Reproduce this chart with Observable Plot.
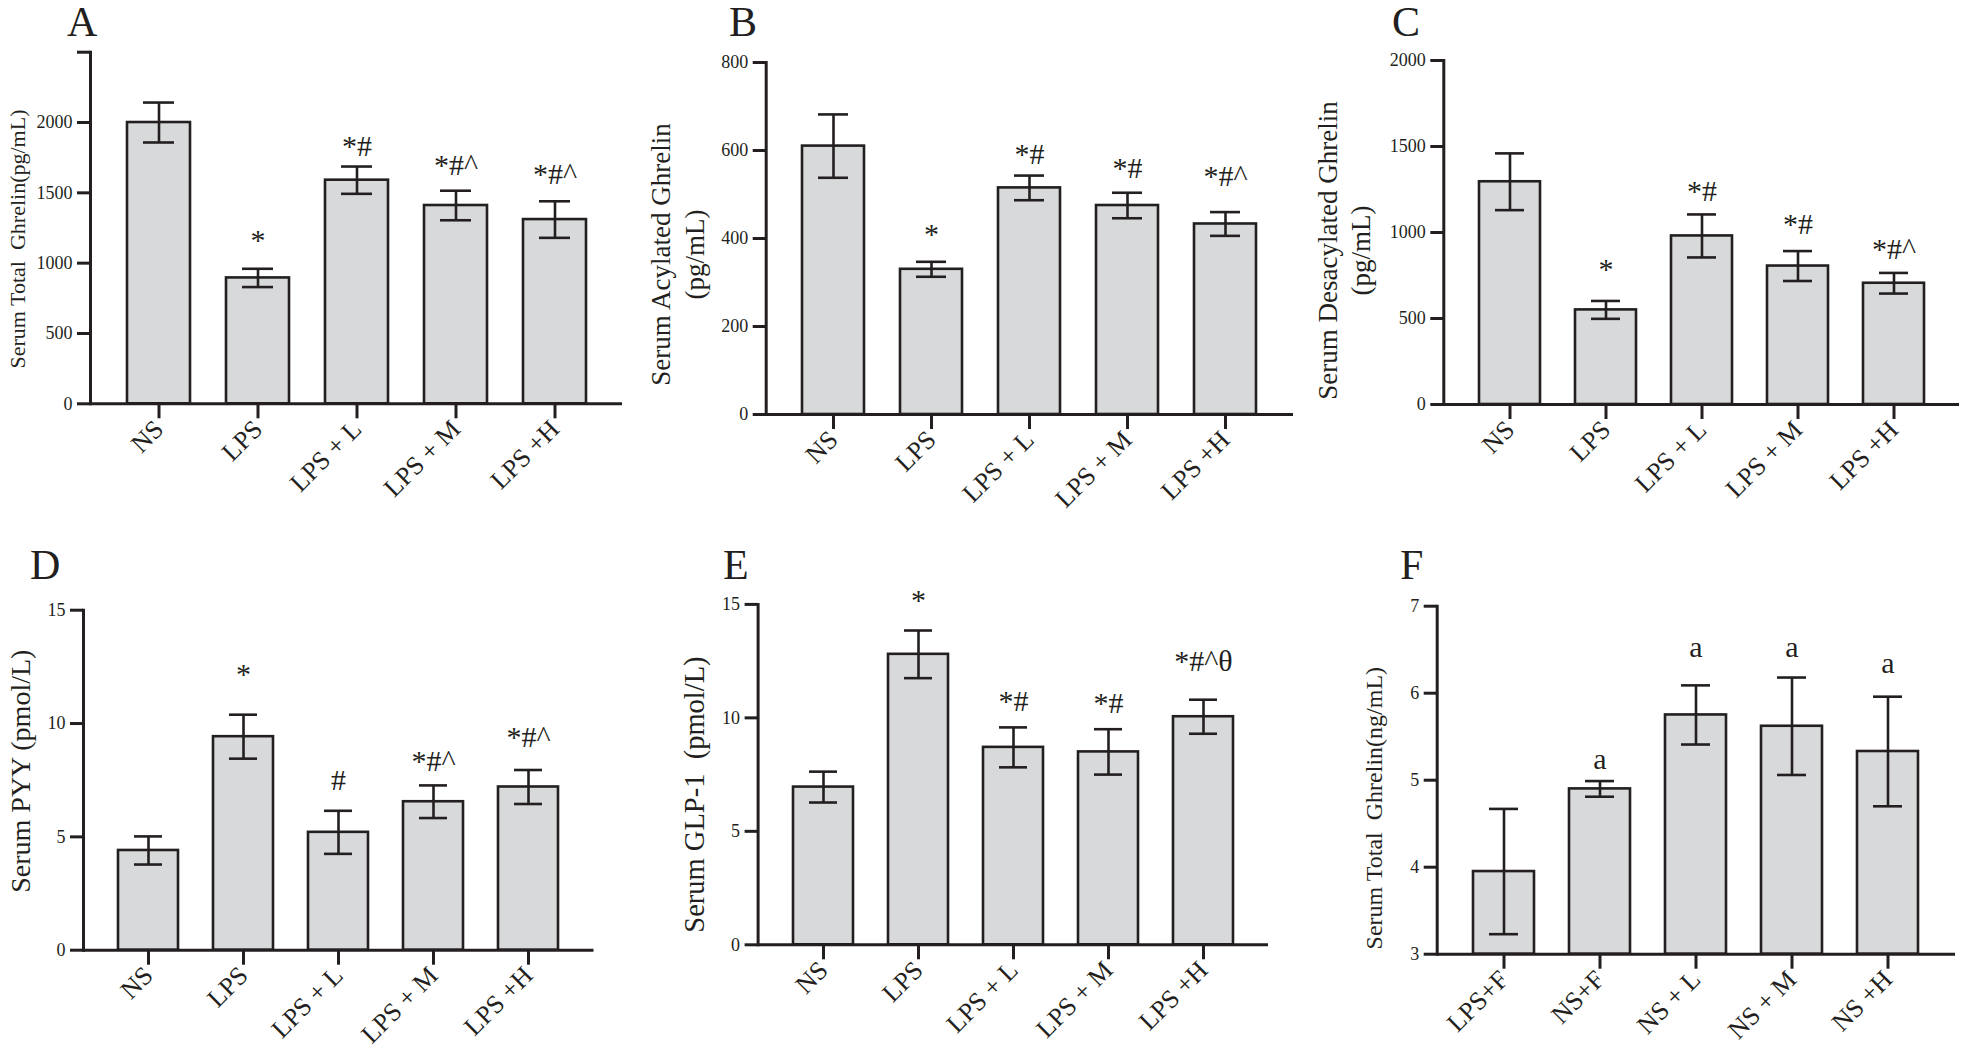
<!DOCTYPE html>
<html>
<head>
<meta charset="utf-8">
<script src="https://cdn.jsdelivr.net/npm/d3@7"></script>
<script src="https://cdn.jsdelivr.net/npm/@observablehq/plot@0.6"></script>
<style>
  html, body { margin: 0; padding: 0; background: #ffffff; }
  #root { position: relative; width: 1966px; height: 1060px; overflow: hidden; background: #fff;
          font-family: "Liberation Serif", "Times New Roman", serif; color: #231f20; }
  .panel { position: absolute; }
  .letter { position: absolute; font-size: 42px; line-height: 1; font-family: "Liberation Serif", "Times New Roman", serif; color: #231f20; }
</style>
</head>
<body>
<div id="root"></div>
<script>
// ---------- data ----------
const groupsLPS = ["NS", "LPS", "LPS + L", "LPS + M", "LPS +H"];
const groupsF = ["LPS+F", "NS+F", "NS + L", "NS + M", "NS +H"];

// A: Serum total ghrelin (pg/mL)
const totalGhrelinMean = [2000, 895, 1590, 1410, 1310];
const totalGhrelinErr = [142, 65, 97, 105, 130];
const totalGhrelinSig = ["", "*", "*#", "*#^", "*#^"];
const totalGhrelinSigY = [null, 1159, 1827, 1694, 1634];
const totalGhrelinTicks = [0, 500, 1000, 1500, 2000, 2500];

// B: Serum acylated ghrelin (pg/mL)
const acylMean = [610, 330, 515, 475, 433];
const acylErr = [72, 17, 28, 29, 27];
const acylSig = ["", "*", "*#", "*#", "*#^"];
const acylSigY = [null, 409, 591, 560, 541];
const acylTicks = [0, 200, 400, 600, 800];

// C: Serum desacylated ghrelin (pg/mL)
const desacylMean = [1295, 550, 980, 805, 705];
const desacylErr = [165, 52, 125, 87, 60];
const desacylSig = ["", "*", "*#", "*#", "*#^"];
const desacylSigY = [null, 784, 1237, 1050, 902];
const desacylTicks = [0, 500, 1000, 1500, 2000];

// D: Serum PYY (pmol/L)
const pyyMean = [4.4, 9.42, 5.2, 6.55, 7.2];
const pyyErr = [0.62, 0.97, 0.95, 0.72, 0.75];
const pyySig = ["", "*", "#", "*#^", "*#^"];
const pyySigY = [null, 12.16, 7.48, 8.35, 9.39];
const pyyTicks = [0, 5, 10, 15];

// E: Serum GLP-1 (pmol/L)
const glpMean = [6.95, 12.8, 8.7, 8.5, 10.05];
const glpErr = [0.68, 1.05, 0.88, 1.0, 0.75];
const glpSig = ["", "*", "*#", "*#", "*#^θ"];
const glpSigY = [null, 15.19, 10.71, 10.64, 12.5];
const glpTicks = [0, 5, 10, 15];

// F: Serum total ghrelin (ng/mL)
const fMean = [3.95, 4.9, 5.75, 5.62, 5.33];
const fErr = [0.72, 0.09, 0.34, 0.56, 0.63];
const fSig = ["", "a", "a", "a", "a"];
const fSigY = [null, 5.24, 6.53, 6.53, 6.34];
const fTicks = [3, 4, 5, 6, 7];

// ---------- drawing ----------
const FONT = "'Liberation Serif', 'Times New Roman', serif";
const INK = "#231f20";
const BAR = "#d8d9db";

function makeRows(groups, mean, err, sig, sigY) {
  return groups.map((g, i) => ({g, mean: mean[i], lo: mean[i] - err[i], hi: mean[i] + err[i], sig: sig[i], sigY: sigY[i]}));
}

function panel(cfg) {
  const rows = makeRows(cfg.groups, cfg.mean, cfg.err, cfg.sig, cfg.sigY);
  const yMin = cfg.ticks[0], yMax = cfg.ticks[cfg.ticks.length - 1];
  const chart = Plot.plot({
    width: cfg.width, height: cfg.height,
    marginLeft: cfg.ml, marginRight: cfg.mr, marginTop: cfg.mt, marginBottom: cfg.mb,
    style: {fontFamily: FONT, color: INK, background: "none", overflow: "visible"},
    x: {domain: cfg.groups, padding: 0.366, axis: null},
    y: {domain: [yMin, yMax], axis: null},
    marks: [
      Plot.barY(rows, {x: "g", y1: yMin, y2: "mean", fill: BAR, stroke: INK, strokeWidth: 2.6}),
      Plot.ruleX(rows, {x: "g", y1: "lo", y2: "hi", stroke: INK, strokeWidth: 2.6}),
      Plot.tickY(rows, {x: "g", y: "hi", stroke: INK, strokeWidth: 2.6, insetLeft: 16, insetRight: 16}),
      Plot.tickY(rows, {x: "g", y: "lo", stroke: INK, strokeWidth: 2.6, insetLeft: 16, insetRight: 16}),
      Plot.text(rows.filter(d => d.sig), {x: "g", y: "sigY", text: "sig", fontSize: 30, fill: INK}),
      Plot.ruleY([yMin], {stroke: INK, strokeWidth: 3}),
      Plot.frame({anchor: "left", stroke: INK, strokeWidth: 3}),
      Plot.axisY({ticks: cfg.ticks, tickFormat: cfg.tickFormat || (d => String(d)), tickSize: 13, tickPadding: 5,
                  fontSize: 18, label: null, stroke: INK, strokeWidth: 3}),
      Plot.axisX({tickSize: 15, tickRotate: -45, tickPadding: 6, fontSize: 26, label: null, stroke: INK, strokeWidth: 3}),
      Plot.text([cfg.label], {frameAnchor: "left", textAnchor: "middle", lineAnchor: "middle", rotate: -90,
                  dx: cfg.ldx, dy: cfg.ldy, fontSize: cfg.lfs, lineHeight: cfg.lh || 1.2, fill: INK})
    ]
  });
  const div = document.createElement("div");
  div.className = "panel";
  div.style.left = cfg.left + "px";
  div.style.top = cfg.top + "px";
  div.appendChild(chart);
  document.getElementById("root").appendChild(div);

  const L = document.createElement("div");
  L.className = "letter";
  L.textContent = cfg.letter;
  L.style.left = cfg.letterX + "px";
  L.style.top = (cfg.letterBase - 0.8375 * 42) + "px";
  document.getElementById("root").appendChild(L);
}

panel({letter: "A", letterX: 67, letterBase: 36,
  groups: groupsLPS, mean: totalGhrelinMean, err: totalGhrelinErr, sig: totalGhrelinSig, sigY: totalGhrelinSigY,
  ticks: totalGhrelinTicks, tickFormat: d => d === 2500 ? "" : String(d),
  label: "Serum Total  Ghrelin(pg/mL)", lfs: 22, ldx: -74, ldy: 11,
  left: 0, top: 0, width: 660, height: 530, ml: 90, mr: 38, mt: 51.7, mb: 126.7});

panel({letter: "B", letterX: 729, letterBase: 36,
  groups: groupsLPS, mean: acylMean, err: acylErr, sig: acylSig, sigY: acylSigY,
  ticks: acylTicks,
  label: "Serum Acylated Ghrelin\n(pg/mL)", lfs: 27, lh: 1.26, ldx: -90, ldy: 16,
  left: 630, top: 0, width: 690, height: 530, ml: 135.7, mr: 27, mt: 62, mb: 116});

panel({letter: "C", letterX: 1392, letterBase: 36,
  groups: groupsLPS, mean: desacylMean, err: desacylErr, sig: desacylSig, sigY: desacylSigY,
  ticks: desacylTicks,
  label: "Serum Desacylated Ghrelin\n(pg/mL)", lfs: 27, lh: 1.22, ldx: -101, ldy: 18,
  left: 1300, top: 0, width: 666, height: 530, ml: 143.3, mr: 7, mt: 60, mb: 126});

panel({letter: "D", letterX: 30, letterBase: 579,
  groups: groupsLPS, mean: pyyMean, err: pyyErr, sig: pyySig, sigY: pyySigY,
  ticks: pyyTicks,
  label: "Serum PYY (pmol/L)", lfs: 28, ldx: -64, ldy: -9,
  left: 0, top: 530, width: 640, height: 530, ml: 83, mr: 46.5, mt: 79.7, mb: 110.3});

panel({letter: "E", letterX: 723, letterBase: 579,
  groups: groupsLPS, mean: glpMean, err: glpErr, sig: glpSig, sigY: glpSigY,
  ticks: glpTicks,
  label: "Serum GLP-1  (pmol/L)", lfs: 28.5, ldx: -64.6, ldy: 20,
  left: 630, top: 530, width: 660, height: 530, ml: 127.6, mr: 22, mt: 73.9, mb: 115.7});

panel({letter: "F", letterX: 1400, letterBase: 579,
  groups: groupsF, mean: fMean, err: fErr, sig: fSig, sigY: fSigY,
  ticks: fTicks,
  label: "Serum Total  Ghrelin(ng/mL)", lfs: 24, ldx: -64.7, ldy: 28,
  left: 1300, top: 530, width: 666, height: 530, ml: 136.7, mr: 11, mt: 75.7, mb: 106.3});
</script>
</body>
</html>
